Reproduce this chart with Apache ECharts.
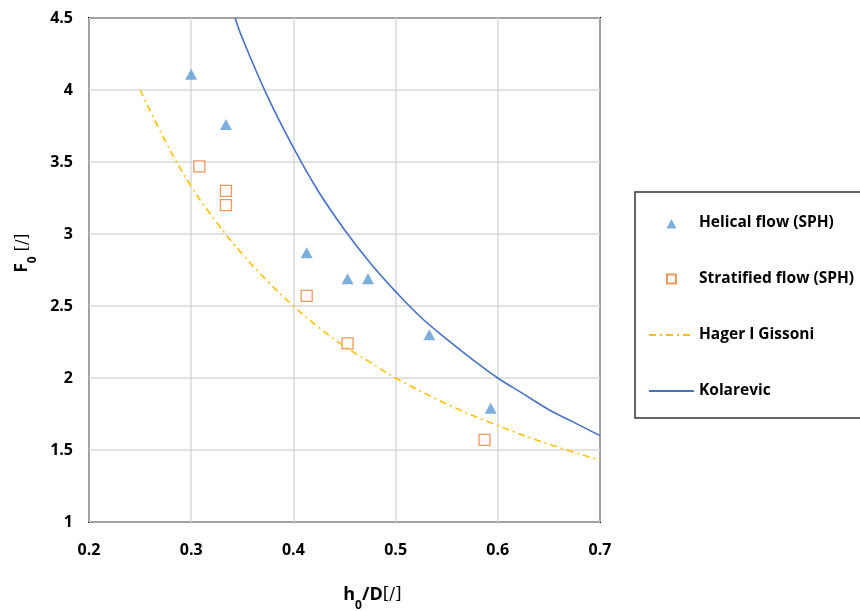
<!DOCTYPE html>
<html>
<head>
<meta charset="utf-8">
<script src="https://cdn.jsdelivr.net/npm/echarts@6/dist/echarts.min.js"></script>
<style>
html,body{margin:0;padding:0;background:#fff}
#Chart{width:860px;height:611px}
</style>
</head>
<body>
<div id="Chart"></div>
<script>
// points [h0/D, F0]
var helical=[[0.300,4.11],[0.334,3.76],[0.413,2.87],[0.453,2.69],[0.473,2.69],[0.533,2.30],[0.593,1.79]]
var stratified=[[0.308,3.47],[0.334,3.30],[0.334,3.20],[0.413,2.57],[0.453,2.24],[0.587,1.57]]
var hager=[[0.25,4.00],[0.275,3.64],[0.30,3.33],[0.325,3.08],[0.35,2.86],[0.375,2.67],[0.40,2.50],[0.425,2.35],[0.45,2.22],[0.475,2.11],[0.50,2.00],[0.55,1.82],[0.60,1.67],[0.65,1.54],[0.70,1.43]]
var kolarevic=[[0.343,4.50],[0.35,4.36],[0.375,3.95],[0.40,3.60],[0.425,3.29],[0.45,3.03],[0.475,2.80],[0.50,2.60],[0.525,2.42],[0.55,2.27],[0.575,2.13],[0.60,2.00],[0.625,1.89],[0.65,1.78],[0.675,1.69],[0.70,1.60]]
var names=['Helical flow (SPH)','Stratified flow (SPH)','Hager I Gissoni','Kolarevic']

var font='"Open Sans", "Liberation Sans", sans-serif'

function drawChar(){
    var myChart=echarts.init(document.getElementById('Chart'))
    var option={
        backgroundColor:'#fff',
        animation:false,
        textStyle:{fontFamily:font},
        grid:{
            left:89,right:260,top:18,bottom:89,
            outerBoundsMode:'none',containLabel:false,
            show:true,borderColor:'#000',borderWidth:2
        },
        legend:{
            orient:'vertical',
            left:635,top:192,
            padding:[23,30,19,13],
            itemWidth:45,itemHeight:14,itemGap:40,
            borderColor:'#333',borderWidth:1.5,
            textStyle:{fontFamily:font,fontWeight:'bold',fontSize:15.5,color:'#000'},
            data:[
                {name:names[0],icon:'path://M0,0 M45,14 M17.5,12.5 L22.5,3 L27.5,12.5 Z'},
                {name:names[1],icon:'path://M0,0 M45,14 M18,2.5 L27,2.5 L27,11.5 L18,11.5 Z'},
                {name:names[2],itemStyle:{opacity:0}},
                {name:names[3],itemStyle:{opacity:0}}
            ]
        },
        xAxis:{
            type:'value',min:0.2,max:0.7,interval:0.1,
            axisLine:{show:false},axisTick:{show:false},
            axisLabel:{margin:20,fontWeight:'bold',fontSize:16,color:'#000',fontFamily:font},
            splitLine:{lineStyle:{color:'#d9d9d9',width:1.5}},
            name:'{b|h}{s|0}{b|/D}{n|[/]}',
            nameLocation:'middle',nameGap:64,
            nameTextStyle:{
                padding:[0,0,0,56],
                rich:{
                    b:{fontFamily:font,fontWeight:'bold',fontSize:18,color:'#000'},
                    s:{fontFamily:font,fontWeight:'bold',fontSize:12,color:'#000',verticalAlign:'bottom',padding:[0,0,-8,0]},
                    n:{fontFamily:'"DejaVu Serif", serif',fontSize:17,color:'#000'}
                }
            }
        },
        yAxis:{
            type:'value',min:1,max:4.5,interval:0.5,
            axisLine:{show:false},axisTick:{show:false},
            axisLabel:{margin:16,fontWeight:'bold',fontSize:16,color:'#000',fontFamily:font},
            splitLine:{lineStyle:{color:'#d9d9d9',width:1.5}},
            name:'{b|F}{s|0}{n| [/]}',
            nameLocation:'middle',nameGap:58,nameRotate:90,
            nameTextStyle:{
                padding:[0,0,0,34],
                rich:{
                    b:{fontFamily:font,fontWeight:'bold',fontSize:17,color:'#000'},
                    s:{fontFamily:font,fontWeight:'bold',fontSize:12,color:'#000',verticalAlign:'bottom',padding:[0,0,-8,0]},
                    n:{fontFamily:'"DejaVu Serif", serif',fontSize:16,color:'#000'}
                }
            }
        },
        series:[
            {
                name:names[0],type:'scatter',data:helical,
                symbol:'triangle',symbolSize:[12,11],
                itemStyle:{color:'#5B9BD5'}
            },
            {
                name:names[1],type:'scatter',data:stratified,
                symbol:'rect',symbolSize:11,
                itemStyle:{color:'#fff',borderColor:'#ED7D31',borderWidth:1.3}
            },
            {
                name:names[2],type:'line',data:hager,smooth:0.4,
                symbol:'none',
                lineStyle:{color:'#FFC000',width:1.6,type:[7,4,2,4]},
                itemStyle:{color:'#FFC000'}
            },
            {
                name:names[3],type:'line',data:kolarevic,smooth:0.4,
                symbol:'none',
                lineStyle:{color:'#4472C4',width:1.6},
                itemStyle:{color:'#4472C4'}
            }
        ]
    }
    myChart.setOption(option)
}

drawChar()
</script>
</body>
</html>
